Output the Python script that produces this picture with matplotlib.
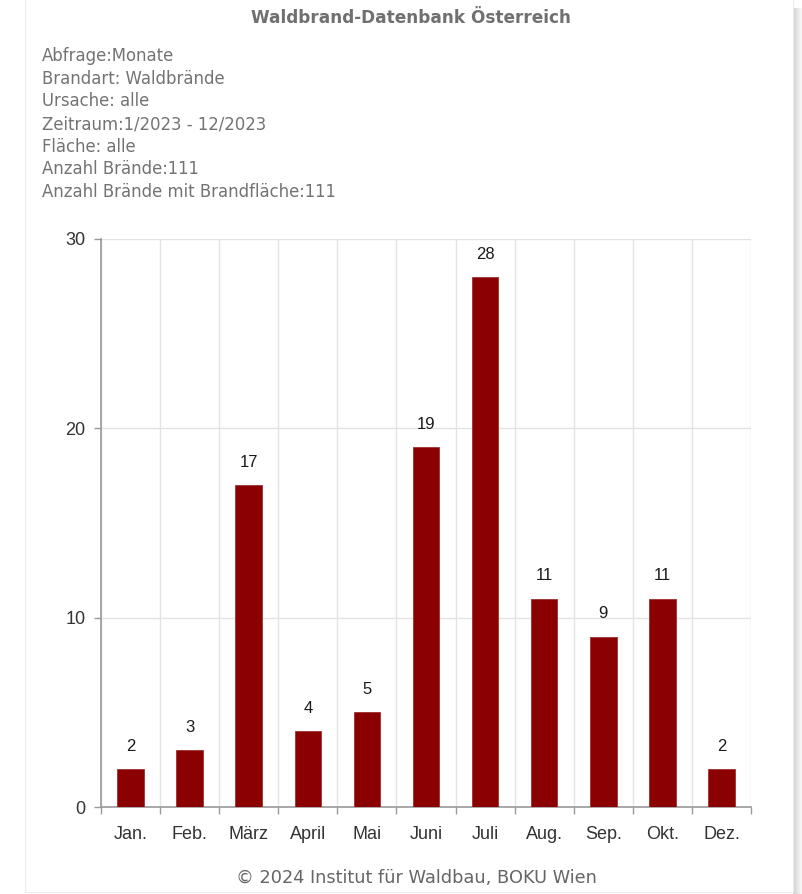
import matplotlib.pyplot as plt
import numpy as np
from matplotlib.patches import Rectangle

# Monthly forest fire counts, Austria 2023 (no fires in November)
months = ['Jan.', 'Feb.', 'März', 'April', 'Mai', 'Juni', 'Juli', 'Aug.', 'Sep.', 'Okt.', 'Dez.']
fires = [2, 3, 17, 4, 5, 19, 28, 11, 9, 11, 2]
y_ticks = [0, 10, 20, 30]

title = 'Waldbrand-Datenbank Österreich'
info_lines = [
    'Abfrage:Monate',
    'Brandart: Waldbrände',
    'Ursache: alle',
    'Zeitraum:1/2023 - 12/2023',
    'Fläche: alle',
    'Anzahl Brände:111',
    'Anzahl Brände mit Brandfläche:111',
]
footer = '© 2024 Institut für Waldbau, BOKU Wien'

W, H = 803, 894
fig = plt.figure(figsize=(W / 100, H / 100), dpi=100)
fig.patch.set_facecolor('white')

# card border with a soft shadow on the right
for i, a in enumerate(np.linspace(0.35, 0.02, 10)):
    fig.patches.append(Rectangle(((793 + i) / W, 0), 1 / W, 1 - 8 / H,
                                 transform=fig.transFigure, color='#808080',
                                 alpha=a, lw=0, zorder=0))
fig.patches.append(Rectangle((25 / W, 2 / H), 768 / W, 1, transform=fig.transFigure,
                             facecolor='white', edgecolor='#ececec', lw=0.8, zorder=1))

fig.text(411 / W, 1 - 18 / H, title, ha='center', va='center', fontsize=12.2,
         fontweight='bold', color='#707070', family='DejaVu Sans')
for i, line in enumerate(info_lines):
    fig.text(42 / W, 1 - (56 + i * 22.7) / H, line, ha='left', va='center',
             fontsize=11.9, color='#737373', family='DejaVu Sans')
fig.text(416 / W, 1 - 878 / H, footer, ha='center', va='center', fontsize=12.8,
         color='#666666', family='DejaVu Sans')

ax = fig.add_axes([101 / W, 1 - 807 / H, 650 / W, 568 / H])
ax.set_zorder(2)
x = np.arange(len(months))
bars = ax.bar(x, fires, width=0.45, color='#8b0000', edgecolor='#a03030',
              linewidth=0.6, zorder=3)
for xi, v in zip(x, fires):
    ax.annotate(str(v), (xi, v), xytext=(0, 11), textcoords='offset points',
                ha='center', va='bottom', fontsize=12, color='#1a1a1a',
                family='Liberation Sans')

ax.set_xlim(-0.5, len(months) - 0.5)
ax.set_ylim(0, 30)
ax.set_yticks(y_ticks)
ax.set_xticks(np.arange(len(months) + 1) - 0.5)
ax.set_xticklabels([])
ax.set_xticks(x, minor=True)
ax.set_xticklabels(months, minor=True, fontsize=13, color='#333333',
                   family='Liberation Sans')
ax.tick_params(axis='x', which='minor', length=0, pad=14)
ax.tick_params(axis='x', which='major', length=5, color='#999999', width=1)
ax.tick_params(axis='y', length=5, color='#999999', width=1, labelsize=13,
               labelcolor='#333333', pad=6)
for lab in ax.get_yticklabels():
    lab.set_family('Liberation Sans')

ax.grid(True, which='major', color='#e3e3e3', linewidth=1, zorder=0)
for s in ['top', 'right']:
    ax.spines[s].set_visible(False)
ax.spines['left'].set_color('#999999')
ax.spines['bottom'].set_color('#999999')
ax.spines['left'].set_linewidth(1.2)
ax.spines['bottom'].set_linewidth(1.2)

fig.savefig('out.png', dpi=100)
